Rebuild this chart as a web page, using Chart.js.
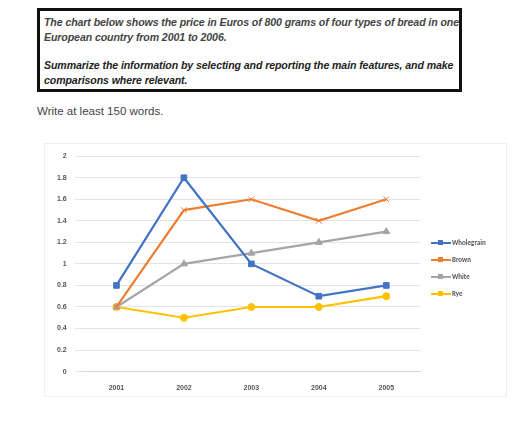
<!DOCTYPE html>
<html><head><meta charset="utf-8">
<script src="https://cdn.jsdelivr.net/npm/chart.js@4"></script>
<style>
body{margin:0;background:#fff;font-family:Arial,"Liberation Sans",sans-serif;}
#box{position:absolute;left:37px;top:8px;width:415px;height:78px;border:3px solid #111;padding:0 0 0 4px;font-style:italic;font-weight:bold;font-size:10.6px;line-height:15px;color:#444;letter-spacing:-0.1px;}
#box p{margin:4px 0 0 0;}
#box p.b{color:#222;margin-top:13px;}
#w{position:absolute;left:37px;top:105px;font-size:11.5px;color:#444;}
#frame{position:absolute;left:44px;top:143px;width:461px;height:252px;border:1px solid #eee;}
#c{position:absolute;left:0;top:0;}
.lg{position:absolute;left:386px;font:bold 7px Calibri,"Liberation Sans",Arial;color:#555;}
.lg span{display:inline-block;width:20px;height:2px;vertical-align:middle;margin-right:1px;position:relative;}
.lg i{position:absolute;left:7px;top:-2px;width:5px;height:5px;}
</style></head><body>
<div id="box"><p>The chart below shows the price in Euros of 800 grams of four types of bread in one European country from 2001 to 2006.</p><p class="b">Summarize the information by selecting and reporting the main features, and make comparisons where relevant.</p></div>
<div id="w">Write at least 150 words.</div>
<div id="frame"><canvas id="c" width="461" height="252"></canvas><div id="leg"></div></div>
<script>
const years=['2001','2002','2003','2004','2005'];
const wholegrain=[0.8,1.8,1.0,0.7,0.8];
const brown=[0.6,1.5,1.6,1.4,1.6];
const white=[0.6,1.0,1.1,1.2,1.3];
const rye=[0.6,0.5,0.6,0.6,0.7];
const names=['Wholegrain','Brown','White','Rye'];
const colors=['#4472C4','#ED7D31','#A5A5A5','#FFC000'];
const styles=['rect','crossRot','triangle','circle'];
const radii=[4,4,4,3.5];
const series=[wholegrain,brown,white,rye];
new Chart(document.getElementById('c'),{type:'line',
data:{labels:years,datasets:series.map((d,i)=>({label:names[i],data:d,borderColor:colors[i],backgroundColor:colors[i],borderWidth:2.2,pointStyle:styles[i],pointRadius:radii[i],pointBorderWidth:1,tension:0}))},
options:{responsive:false,animation:false,
layout:{padding:{left:4,right:86,top:4,bottom:0}},
plugins:{legend:{display:false},tooltip:{enabled:false}},
scales:{x:{offset:true,grid:{display:false},border:{color:'#d9d9d9'},ticks:{color:'#555',font:{size:7,weight:'bold'},padding:4}},
y:{min:0,max:2,ticks:{stepSize:0.2,color:'#555',font:{size:7,weight:'bold'},padding:8,callback:v=>+v.toFixed(1)},grid:{color:'#e4e4e4'},border:{display:false}}}}});
const leg=document.getElementById('leg');
names.forEach((n,i)=>{const d=document.createElement('div');d.className='lg';d.style.top=(94+i*17)+'px';
d.innerHTML='<span style="background:'+colors[i]+'"><i style="background:'+colors[i]+'"></i></span>'+n;leg.appendChild(d);});
</script></body></html>
